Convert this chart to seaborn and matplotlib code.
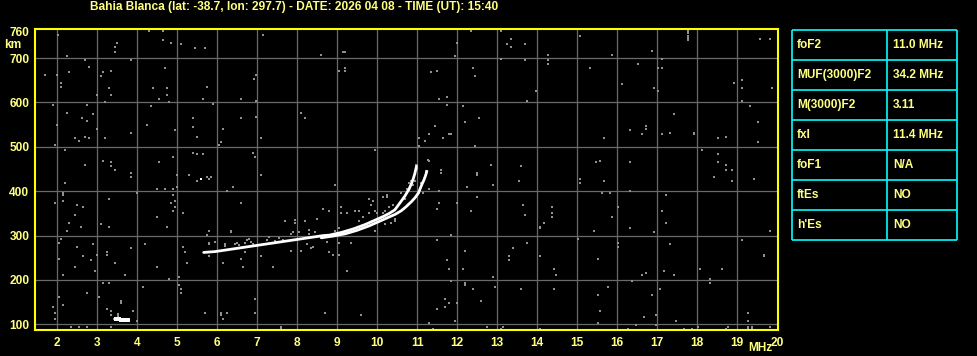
import numpy as np
import pandas as pd
import matplotlib
matplotlib.use("Agg")
import matplotlib.pyplot as plt
import seaborn as sns

# ---------------- data ----------------
title = "Bahia Blanca (lat: -38.7, lon: 297.7) - DATE: 2026 04 08 - TIME (UT): 15:40"
x_ticks = list(range(2, 21))
y_ticks = [100, 200, 300, 400, 500, 600, 700, 760]
grid_freq = list(range(2, 20))
grid_height = [100, 200, 300, 400, 500, 600, 700]

table_params = ["foF2", "MUF(3000)F2", "M(3000)F2", "fxI", "foF1", "ftEs", "h'Es"]
table_values = ["11.0 MHz", "34.2 MHz", "3.11", "11.4 MHz", "N/A", "NO", "NO"]

# F2 ordinary trace (upper-left branch)
o_freq = [5.66, 5.80, 5.95, 6.10, 6.25, 6.40, 6.55, 6.70, 6.85, 7.00, 7.15, 7.30, 7.45, 7.60,
          7.75, 7.90, 8.05, 8.20, 8.35, 8.50, 8.65, 8.80, 8.95, 9.10, 9.25, 9.40, 9.55, 9.70,
          9.85, 10.00, 10.15, 10.30, 10.44, 10.57, 10.69, 10.79, 10.85, 10.90, 10.94, 10.98]
o_height = [262, 263, 264, 266, 268, 270, 272, 274, 276, 278, 280, 282, 284, 286,
            288, 290, 292, 294, 296, 298, 300, 301, 304, 307, 311, 315, 320, 325,
            331, 337, 343, 350, 358, 374, 389, 404, 416, 428, 440, 456]
# F2 extraordinary trace (lower-right branch)
x_freq = [8.60, 8.90, 9.20, 9.50, 9.80, 10.05, 10.25, 10.45, 10.60, 10.72, 10.86, 10.95,
          11.03, 11.11, 11.17, 11.21, 11.24]
x_height = [295, 299, 304, 312, 322, 332, 340, 348, 356, 365, 377, 386,
            396, 414, 426, 436, 445]
# sporadic E-region echo
e_freq = [3.48, 3.54, 3.60, 3.66, 3.72, 3.78]
e_height = [112, 111, 110, 110, 110, 109]
iso_freq = [5.59]
iso_height = [428]

# grey echoes around the F trace
fringe_freq = [7.94, 7.94, 8.19, 8.49, 8.64, 8.79, 9.09, 9.09, 9.24, 9.44, 9.54, 9.79, 9.84, 9.89,
               9.79, 9.94, 9.99, 10.14, 10.19, 10.24, 10.24, 10.14, 10.29, 10.39, 10.44, 10.59,
               10.69, 10.74, 10.79, 10.84, 10.94, 10.89, 11.09, 11.29, 11.14, 7.69, 7.84, 7.89,
               8.04, 8.29, 8.29, 8.44, 8.94, 9.04, 8.64, 8.74, 9.04, 9.34, 8.24, 8.39, 8.34, 7.84,
               8.09, 8.79, 8.89, 9.04, 10.44, 10.44, 10.34, 9.94, 10.19, 9.64, 9.54, 7.89,
               6.19, 6.19, 6.44, 6.49, 6.54, 6.69, 6.74, 6.79, 6.84, 6.89, 7.24, 7.29, 7.44, 7.54,
               7.64, 5.79, 5.94, 10.98, 10.98, 11.23, 11.23, 10.86, 11.28, 3.42, 3.53, 3.53]
fringe_height = [335, 329, 334, 338, 361, 356, 365, 352, 352, 356, 356, 383, 370, 379,
                 352, 356, 352, 352, 356, 392, 388, 388, 365, 370, 361, 397,
                 383, 406, 419, 424, 424, 415, 419, 406, 397, 334, 304, 308,
                 308, 313, 304, 308, 311, 316, 298, 286, 284, 284, 280, 275, 271, 266,
                 266, 262, 257, 257, 338, 334, 329, 311, 325, 343, 334, 289,
                 276, 282, 280, 284, 278, 284, 290, 292, 286, 281, 290, 296, 288, 294,
                 291, 283, 285, 450, 458, 436, 446, 418, 470, 113, 118, 124]

# background noise, upper half
noise_up_freq = [2.03, 4.29, 4.64, 7.14, 3.49, 3.44, 4.64, 4.84, 5.09, 5.44, 5.69, 3.44, 2.24, 2.69,
                 3.84, 2.79, 1.69, 1.99, 2.29, 3.14, 3.34, 3.09, 4.69, 6.98, 6.91, 2.09, 2.09, 3.29,
                 4.39, 4.74, 5.74, 2.99, 3.34, 4.74, 4.54, 5.64, 6.59, 6.98, 1.89, 2.74, 3.19, 4.79,
                 5.89, 4.34, 2.24, 2.89, 2.61, 2.74, 5.39, 6.59, 6.98, 1.99, 2.99, 4.24, 5.39, 6.14,
                 3.84, 4.94, 2.44, 2.54, 2.69, 2.79, 3.19, 5.49, 7.09, 1.94, 6.04, 6.09, 2.19, 5.39,
                 5.49, 5.64, 6.89, 6.94, 4.89, 3.14, 3.34, 2.69, 4.54, 3.34, 3.44, 3.84, 3.84, 4.99,
                 5.29, 5.74, 5.84, 5.79, 7.09,
                 8.59, 9.14, 9.19, 9.04, 9.19, 9.19, 12.34, 13.09, 13.34, 13.24, 13.34, 13.69, 11.99,
                 11.94, 13.09, 13.69, 11.34, 11.49, 12.39, 12.44, 11.54, 11.74, 13.74, 11.74, 12.14,
                 8.09, 8.19, 12.54, 12.19, 11.44, 11.29, 11.79, 11.84, 11.04, 11.19, 11.64, 11.04,
                 12.44, 9.94, 11.29, 12.84, 13.59, 10.99, 10.99, 11.59, 11.59, 12.49, 12.49,
                 15.08, 19.58, 19.83, 14.28, 14.28, 14.28, 15.88, 16.88, 17.13, 15.33, 16.53, 17.03,
                 17.13, 16.13, 16.93, 17.03, 13.98, 18.93, 19.13, 19.13, 19.88, 19.13, 19.33, 17.43,
                 19.53, 16.73, 16.73, 16.33, 16.63, 15.68, 17.13, 17.33, 17.93, 17.93, 18.53, 18.73,
                 19.53, 18.13, 15.48, 15.58, 16.33, 18.53, 18.53, 18.73, 18.73, 18.88, 18.43, 15.08,
                 19.43, 17.78, 17.78, 17.78, 17.78, 17.78]
noise_up_height = [753, 762, 762, 753, 735, 726, 740, 735, 731, 722, 722, 713, 704, 695,
                   695, 681, 663, 663, 668, 668, 672, 659, 677, 663, 654, 645, 636, 632,
                   632, 632, 636, 618, 618, 618, 609, 607, 609, 604, 595, 595, 600, 600,
                   597, 591, 577, 573, 564, 559, 564, 564, 568, 550, 541, 550, 544, 541,
                   532, 537, 519, 514, 523, 519, 519, 523, 519, 505, 505, 510, 492, 487,
                   484, 483, 487, 478, 478, 469, 465, 460, 465, 456, 447, 442, 433, 437,
                   437, 433, 433, 428, 437,
                   708, 713, 713, 672, 677, 672, 762, 762, 744, 731, 726, 731, 735,
                   704, 699, 695, 668, 672, 677, 659, 609, 613, 604, 595, 591,
                   577, 564, 564, 555, 546, 528, 528, 528, 519, 514, 519, 501,
                   501, 492, 469, 460, 456, 460, 451, 447, 442, 442, 437,
                   749, 744, 744, 708, 695, 686, 708, 717, 699, 677, 686, 677,
                   677, 641, 632, 627, 627, 645, 650, 632, 632, 604, 591, 573,
                   555, 546, 541, 537, 528, 519, 528, 532, 532, 528, 519, 523,
                   510, 492, 465, 469, 465, 483, 465, 460, 447, 447, 433, 428,
                   428, 741, 746, 751, 756, 761]

# background noise, lower half
noise_lo_freq = [2.19, 5.49, 5.79, 4.49, 4.69, 4.89, 4.99, 6.24, 6.39, 2.14, 2.14, 3.99, 4.89, 1.94,
                 2.14, 3.29, 4.94, 4.84, 2.49, 2.64, 4.94, 4.89, 5.14, 6.59, 2.44, 4.49, 2.29, 2.59,
                 3.09, 3.29, 4.74, 2.24, 5.79, 5.74, 6.34, 6.34, 2.09, 2.04, 2.89, 2.49, 3.84, 4.19,
                 5.14, 5.79, 3.24, 3.24, 2.99, 2.64, 2.04, 2.84, 3.44, 5.19, 5.24, 5.79, 6.59, 6.69,
                 6.14, 7.09, 2.44, 4.49, 6.64, 7.39, 2.94, 2.14, 3.69, 4.79, 5.04, 3.14, 3.29, 4.14,
                 5.04, 5.09, 5.09, 2.74, 3.04, 2.04, 2.14, 1.89, 3.59, 3.59, 3.24, 3.34, 3.89, 1.94,
                 3.34, 5.69, 6.09, 6.09, 6.24, 6.14, 1.94, 3.99, 2.34, 2.54, 2.74, 3.34, 6.94, 6.94,
                 7.59, 7.59,
                 8.94, 11.54, 12.24, 12.89, 13.54, 12.49, 11.54, 11.49, 12.34, 11.99, 13.64, 13.69,
                 11.84, 11.49, 13.74, 13.39, 12.19, 13.29, 13.29, 11.74, 11.79, 12.14, 9.24, 12.89,
                 11.84, 12.19, 12.19, 12.94, 12.39, 13.59, 11.69, 11.79, 11.99, 12.59, 11.69, 11.49,
                 8.69, 9.59, 11.29, 11.94, 12.74, 11.39, 13.14, 13.09,
                 15.08, 15.08, 15.68, 18.88, 19.43, 15.63, 15.83, 16.33, 17.23, 14.38, 14.38, 14.38,
                 16.03, 17.13, 15.88, 14.18, 14.08, 14.08, 15.43, 16.33, 17.23, 16.93, 19.83, 15.03,
                 16.03, 16.03, 17.33, 19.13, 19.68, 19.68, 14.08, 15.53, 14.43, 14.48, 16.63, 16.73,
                 17.18, 17.43, 18.08, 18.63, 18.33, 18.33, 16.38, 15.78, 14.43, 17.08, 15.53, 16.88,
                 15.58, 16.68, 16.98, 17.48, 15.53, 16.48, 16.98, 19.28, 19.28, 18.03, 18.78, 19.83,
                 14.08, 16.28, 17.68, 17.88, 18.73, 19.28, 19.28, 19.38, 19.38]
noise_lo_height = [419, 424, 428, 406, 406, 406, 410, 401, 410, 397, 392, 397, 392, 374,
                   379, 383, 379, 374, 370, 365, 365, 356, 352, 374, 347, 343, 329, 320,
                   325, 320, 320, 311, 311, 302, 311, 307, 293, 284, 280, 275, 271, 280,
                   275, 280, 262, 257, 257, 253, 248, 244, 239, 262, 239, 253, 248, 262,
                   239, 253, 230, 230, 230, 230, 221, 212, 212, 203, 207, 194, 194, 185,
                   189, 180, 171, 171, 162, 162, 144, 140, 153, 149, 135, 131, 131, 126,
                   122, 126, 126, 122, 126, 113, 113, 108, 95, 95, 95, 95, 158, 126,
                   95, 90,
                   415, 401, 410, 415, 424, 388, 374, 361, 356, 374, 370, 347,
                   302, 289, 284, 271, 266, 253, 244, 244, 225, 225, 221, 207,
                   198, 194, 189, 185, 180, 180, 158, 149, 149, 153, 140, 135,
                   126, 122, 104, 108, 95, 90, 95, 90,
                   428, 419, 424, 424, 428, 397, 397, 401, 392, 365, 352, 343,
                   365, 356, 343, 329, 320, 316, 311, 316, 329, 307, 311, 293,
                   284, 275, 280, 289, 257, 253, 253, 248, 225, 212, 212, 216,
                   221, 212, 225, 225, 203, 194, 198, 185, 180, 180, 167, 167,
                   131, 117, 122, 108, 104, 99, 99, 126, 108, 95, 95, 95,
                   90, 90, 90, 90, 90, 95, 90, 95, 90]

# ---------------- style ----------------
BG = "black"
GRID = "#6a6a6a"
NOISE = "#909090"
FRAME = "#ffff00"
TEXT = "#ffff80"
CYAN = "#00ffff"

sns.set_style("dark", {"axes.facecolor": BG, "figure.facecolor": BG})
plt.rcParams['font.family'] = ['Liberation Sans', 'DejaVu Sans']
plt.rcParams['font.weight'] = 'bold'

W, H = 978, 356
fig = plt.figure(figsize=(W / 100, H / 100), dpi=100, facecolor=BG)

ax = fig.add_axes([35 / W, (H - 330.3) / H, 743 / W, 301 / H])
ax.set_facecolor(BG)
XMIN, XMAX, YMIN, YMAX = 1.4425, 20.02, 86.5, 765
ax.set_xlim(XMIN, XMAX)
ax.set_ylim(YMIN, YMAX)
ax.grid(False)

ax.vlines(grid_freq, YMIN, YMAX, color=GRID, lw=0.9, zorder=1)
ax.hlines(grid_height, XMIN, XMAX, color=GRID, lw=0.9, zorder=1)

noise = pd.DataFrame({"f": noise_up_freq + noise_lo_freq + fringe_freq,
                      "h": noise_up_height + noise_lo_height + fringe_height})
sns.scatterplot(data=noise, x="f", y="h", marker="s", s=3.5, color=NOISE,
                linewidth=0, ax=ax, zorder=2, legend=False)

for fr, hr in [(o_freq, o_height), (x_freq, x_height)]:
    df = pd.DataFrame({"f": fr, "h": hr})
    sns.lineplot(data=df, x="f", y="h", sort=False, estimator=None, color="white",
                 lw=2.0, ax=ax, zorder=3)
sns.scatterplot(x=e_freq, y=e_height, marker="s", s=9, color="white", linewidth=0,
                ax=ax, zorder=3, legend=False)
sns.scatterplot(x=iso_freq, y=iso_height, marker="s", s=4, color="white", linewidth=0,
                ax=ax, zorder=3, legend=False)

for sp in ax.spines.values():
    sp.set_color(FRAME)
    sp.set_linewidth(1.5)
    sp.set_visible(True)

ax.set_xticks(x_ticks)
ax.set_xticklabels([str(t) for t in x_ticks])
ax.set_yticks(y_ticks)
ax.set_yticklabels([str(t) for t in y_ticks])
ax.tick_params(length=0, colors=TEXT, labelsize=8.6, pad=4)
ax.tick_params(axis="x", pad=5)
for lab in ax.get_xticklabels() + ax.get_yticklabels():
    lab.set_fontweight("bold")
ax.set_xlabel("")
ax.set_ylabel("")

ax.text(-0.019, 730, "km", transform=ax.get_yaxis_transform(), ha="right", va="center",
        color=TEXT, fontsize=8.6, fontweight="bold")
ax.text(19.57, -0.06, "MHz", transform=ax.get_xaxis_transform(), ha="center", va="center",
        color=TEXT, fontsize=8.6, fontweight="bold")

fig.text(90 / W, 1 - 7 / H, title, ha="left", va="center", color=TEXT,
         fontsize=8.6, fontweight="bold")

# ---------------- parameter table ----------------
tab = fig.add_axes([792 / W, (H - 240) / H, 165 / W, 210 / H])
tab.set_facecolor(BG)
tab.set_xlim(0, 165)
tab.set_ylim(len(table_params), 0)
tab.axis("off")
rows = list(range(len(table_params) + 1))
tab.hlines(rows, 0, 165, color=CYAN, lw=1.2, clip_on=False)
tab.vlines([0, 95.3, 165], 0, len(table_params), color=CYAN, lw=1.2, clip_on=False)
for i, (p, v) in enumerate(zip(table_params, table_values)):
    tab.text(5, i + 0.5, p, ha="left", va="center", color=TEXT, fontsize=8.6, fontweight="bold")
    tab.text(101, i + 0.5, v, ha="left", va="center", color=TEXT, fontsize=8.6, fontweight="bold")

fig.savefig("out.png", dpi=100, facecolor=BG)
